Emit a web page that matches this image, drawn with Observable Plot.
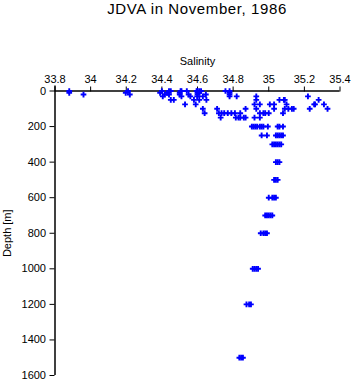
<!DOCTYPE html>
<html>
<head>
<meta charset="utf-8">
<script src="https://cdn.jsdelivr.net/npm/d3@7"></script>
<script src="https://cdn.jsdelivr.net/npm/@observablehq/plot@0.6"></script>
<style>
  html, body { margin: 0; padding: 0; background: white; }
  #title { width: 353px; height: 20px; position: relative; font-family: "Liberation Sans", Arial, sans-serif; }
  #title span { position: absolute; left: 197px; top: 1px; transform: translateX(-50%); white-space: nowrap; font-size: 15px; letter-spacing: 0.6px; line-height: 16px; }
</style>
</head>
<body>
<div id="title"><span>JDVA in November, 1986</span></div>
<div id="chart"></div>
<script>
const titleText = "JDVA in November, 1986";
const xLabel = "Salinity";
const yLabel = "Depth [m]";
const xTicks = [33.8, 34, 34.2, 34.4, 34.6, 34.8, 35, 35.2, 35.4];
const yTicks = [0, 200, 400, 600, 800, 1000, 1200, 1400, 1600];

// sampled depth levels (m) and the salinities observed at each
const depthLevels = [0, 10, 20, 30, 50, 75, 100, 125, 150, 200, 250, 300, 400, 500, 600, 700, 800, 1000, 1200, 1500];
const salinityAtDepth = [
  [33.88, 34.21, 34.40, 34.44, 34.45, 34.505, 34.51, 34.54, 34.595, 34.60, 34.61, 34.62, 34.757, 34.78],
  [33.88, 34.197, 34.39, 34.43, 34.50, 34.60, 34.61, 34.78],
  [33.96, 34.22, 34.416, 34.44, 34.50, 34.55, 34.60, 34.647, 34.78],
  [34.405, 34.51, 34.56, 34.598, 34.63, 34.78, 34.82, 34.93, 35.22],
  [34.45, 34.467, 34.58, 34.61, 34.65, 34.93, 35.06, 35.085, 35.09, 35.28],
  [34.53, 34.59, 34.92, 34.95, 35.006, 35.03, 35.10, 35.255, 35.26, 35.31],
  [34.63, 34.71, 34.87, 34.93, 35.03, 35.09, 35.11, 35.13, 35.14, 35.23, 35.33],
  [34.64, 34.72, 34.735, 34.75, 34.77, 34.79, 34.81, 34.84, 34.95, 34.97, 34.98, 35.0, 35.08],
  [34.73, 34.815, 34.83, 34.84, 34.86, 34.87, 34.92, 34.95],
  [34.905, 34.915, 34.925, 34.935, 34.95, 34.96, 34.97, 34.995, 35.05, 35.06, 35.08],
  [34.96, 34.99, 35.04, 35.05, 35.06, 35.07, 35.08],
  [35.02, 35.03, 35.04, 35.05, 35.06, 35.07],
  [35.04, 35.05, 35.06],
  [35.03, 35.04, 35.05],
  [35.0, 35.02, 35.03, 35.04],
  [34.98, 34.99, 35.0, 35.01, 35.02],
  [34.955, 34.97, 34.98, 34.99],
  [34.91, 34.92, 34.93, 34.94],
  [34.875, 34.89, 34.90],
  [34.835, 34.845, 34.855]
];

const obs = depthLevels.flatMap((d, i) => salinityAtDepth[i].map(s => ({salinity: s, depth: d})));

const fmtX = d => String(+(+d).toFixed(1));

const chart = Plot.plot({
  width: 353,
  height: 364,
  marginLeft: 54.5,
  marginRight: 13.5,
  marginTop: 70.5,
  marginBottom: 9,
  style: {fontFamily: "'Liberation Sans', Arial, sans-serif", fontSize: "11px", color: "black", background: "white", overflow: "visible"},
  x: {domain: [33.8, 35.4], axis: "top", ticks: xTicks, tickFormat: fmtX, tickSize: 5, tickPadding: 3, label: xLabel, labelArrow: "none", labelAnchor: "center", labelOffset: 34},
  y: {domain: [0, 1600], reverse: true, ticks: yTicks, tickFormat: d3.format("d"), tickSize: 5, tickPadding: 4, label: yLabel, labelArrow: "none", labelAnchor: "center", labelOffset: 52},
  marks: [
    Plot.ruleY([0], {stroke: "black", strokeWidth: 1.5}),
    Plot.ruleX([33.8], {stroke: "black", strokeWidth: 1.5, insetTop: -5}),
    Plot.dot(obs, {x: "salinity", y: "depth", symbol: "cross", r: 2.4, fill: "#0000ff", stroke: "none"})
  ]
});
document.getElementById("chart").appendChild(chart);
</script>
</body>
</html>
